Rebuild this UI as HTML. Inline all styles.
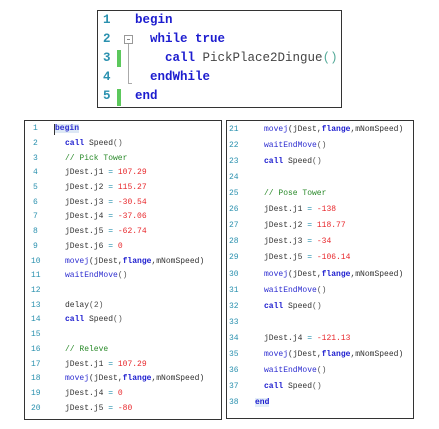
<!DOCTYPE html>
<html><head><style>
body{margin:0;width:439px;height:429px;background:#fff;position:relative;overflow:hidden;font-family:"Liberation Mono",monospace}
.box{position:absolute;border:1.5px solid #333;background:#fff;box-sizing:border-box}
.l{position:absolute;white-space:pre;color:#333}
.n{position:absolute;color:#2b91af}
.k{color:#1c1ccf;font-weight:bold}
.f{color:#2c2cd0}
.r{color:#e8282c}
.c{color:#2a8a2a}
.e{color:#2b91af}
.p{color:#555}
</style></head><body>
<div class="box" style="left:97px;top:10px;width:245px;height:98px"></div>
<div style="position:absolute;left:117px;top:50px;width:4px;height:17px;background:#5cc85c"></div>
<div style="position:absolute;left:117px;top:89px;width:4px;height:17px;background:#5cc85c"></div>
<div style="position:absolute;left:124px;top:35px;width:7px;height:7px;border:1px solid #999"></div>
<div style="position:absolute;left:127px;top:39px;width:3px;height:0;border-top:1px solid #888"></div>
<div style="position:absolute;left:128px;top:44px;width:3px;height:39px;border-left:1px solid #aaa;border-bottom:1px solid #aaa"></div>
<div style="font-size:12.5px">
<div class="n" style="left:103px;top:13px;font-weight:bold">1</div><div class="l" style="left:135px;top:13px"><span class="k">begin</span></div>
<div class="n" style="left:103px;top:32px;font-weight:bold">2</div><div class="l" style="left:150px;top:32px"><span class="k">while true</span></div>
<div class="n" style="left:103px;top:51px;font-weight:bold">3</div><div class="l" style="left:165px;top:51px"><span class="k">call</span> <span style="color:#444">PickPlace2Dingue</span><span style="color:#5a9">()</span></div>
<div class="n" style="left:103px;top:70px;font-weight:bold">4</div><div class="l" style="left:150px;top:70px"><span class="k">endWhile</span></div>
<div class="n" style="left:103px;top:89px;font-weight:bold">5</div><div class="l" style="left:135px;top:89px"><span class="k">end</span></div>
</div>

<div class="box" style="left:24px;top:120px;width:198px;height:300px"></div>
<div class="box" style="left:226px;top:120px;width:188px;height:299px"></div>
<div style="position:absolute;left:54px;top:124px;width:1px;height:11px;background:#333"></div>

<div style="font-size:8px;line-height:10px">
<div class="n" style="left:33px;top:124px">1</div><div class="l" style="left:55px;top:124px"><span class="f" style="font-weight:bold;background:#dde8f5">begin</span></div>
<div class="n" style="left:33px;top:139px">2</div><div class="l" style="left:65px;top:139px"><span class="k">call</span> Speed<span class="p">()</span></div>
<div class="n" style="left:33px;top:154px">3</div><div class="l" style="left:65px;top:154px"><span class="c">// Pick Tower</span></div>
<div class="n" style="left:33px;top:168px">4</div><div class="l" style="left:65px;top:168px">jDest.j1 <span class="e">=</span> <span class="r">107.29</span></div>
<div class="n" style="left:33px;top:183px">5</div><div class="l" style="left:65px;top:183px">jDest.j2 <span class="e">=</span> <span class="r">115.27</span></div>
<div class="n" style="left:33px;top:198px">6</div><div class="l" style="left:65px;top:198px">jDest.j3 <span class="e">=</span> <span class="r">-30.54</span></div>
<div class="n" style="left:33px;top:212px">7</div><div class="l" style="left:65px;top:212px">jDest.j4 <span class="e">=</span> <span class="r">-37.06</span></div>
<div class="n" style="left:33px;top:227px">8</div><div class="l" style="left:65px;top:227px">jDest.j5 <span class="e">=</span> <span class="r">-62.74</span></div>
<div class="n" style="left:33px;top:242px">9</div><div class="l" style="left:65px;top:242px">jDest.j6 <span class="e">=</span> <span class="r">0</span></div>
<div class="n" style="left:31px;top:257px">10</div><div class="l" style="left:65px;top:257px"><span class="f">movej</span>(jDest,<span class="k">flange</span>,mNomSpeed)</div>
<div class="n" style="left:31px;top:271px">11</div><div class="l" style="left:65px;top:271px"><span class="f">waitEndMove</span><span class="p">()</span></div>
<div class="n" style="left:31px;top:286px">12</div>
<div class="n" style="left:31px;top:301px">13</div><div class="l" style="left:65px;top:301px">delay<span class="p">(2)</span></div>
<div class="n" style="left:31px;top:315px">14</div><div class="l" style="left:65px;top:315px"><span class="k">call</span> Speed<span class="p">()</span></div>
<div class="n" style="left:31px;top:330px">15</div>
<div class="n" style="left:31px;top:345px">16</div><div class="l" style="left:65px;top:345px"><span class="c">// Releve</span></div>
<div class="n" style="left:31px;top:360px">17</div><div class="l" style="left:65px;top:360px">jDest.j1 <span class="e">=</span> <span class="r">107.29</span></div>
<div class="n" style="left:31px;top:374px">18</div><div class="l" style="left:65px;top:374px"><span class="f">movej</span>(jDest,<span class="k">flange</span>,mNomSpeed)</div>
<div class="n" style="left:31px;top:389px">19</div><div class="l" style="left:65px;top:389px">jDest.j4 <span class="e">=</span> <span class="r">0</span></div>
<div class="n" style="left:31px;top:404px">20</div><div class="l" style="left:65px;top:404px">jDest.j5 <span class="e">=</span> <span class="r">-80</span></div>

<div class="n" style="left:229px;top:125px">21</div><div class="l" style="left:264px;top:125px"><span class="f">movej</span>(jDest,<span class="k">flange</span>,mNomSpeed)</div>
<div class="n" style="left:229px;top:141px">22</div><div class="l" style="left:264px;top:141px"><span class="f">waitEndMove</span><span class="p">()</span></div>
<div class="n" style="left:229px;top:157px">23</div><div class="l" style="left:264px;top:157px"><span class="k">call</span> Speed<span class="p">()</span></div>
<div class="n" style="left:229px;top:173px">24</div>
<div class="n" style="left:229px;top:189px">25</div><div class="l" style="left:264px;top:189px"><span class="c">// Pose Tower</span></div>
<div class="n" style="left:229px;top:205px">26</div><div class="l" style="left:264px;top:205px">jDest.j1 <span class="e">=</span> <span class="r">-138</span></div>
<div class="n" style="left:229px;top:221px">27</div><div class="l" style="left:264px;top:221px">jDest.j2 <span class="e">=</span> <span class="r">118.77</span></div>
<div class="n" style="left:229px;top:237px">28</div><div class="l" style="left:264px;top:237px">jDest.j3 <span class="e">=</span> <span class="r">-34</span></div>
<div class="n" style="left:229px;top:253px">29</div><div class="l" style="left:264px;top:253px">jDest.j5 <span class="e">=</span> <span class="r">-106.14</span></div>
<div class="n" style="left:229px;top:270px">30</div><div class="l" style="left:264px;top:270px"><span class="f">movej</span>(jDest,<span class="k">flange</span>,mNomSpeed)</div>
<div class="n" style="left:229px;top:286px">31</div><div class="l" style="left:264px;top:286px"><span class="f">waitEndMove</span><span class="p">()</span></div>
<div class="n" style="left:229px;top:302px">32</div><div class="l" style="left:264px;top:302px"><span class="k">call</span> Speed<span class="p">()</span></div>
<div class="n" style="left:229px;top:318px">33</div>
<div class="n" style="left:229px;top:334px">34</div><div class="l" style="left:264px;top:334px">jDest.j4 <span class="e">=</span> <span class="r">-121.13</span></div>
<div class="n" style="left:229px;top:350px">35</div><div class="l" style="left:264px;top:350px"><span class="f">movej</span>(jDest,<span class="k">flange</span>,mNomSpeed)</div>
<div class="n" style="left:229px;top:366px">36</div><div class="l" style="left:264px;top:366px"><span class="f">waitEndMove</span><span class="p">()</span></div>
<div class="n" style="left:229px;top:382px">37</div><div class="l" style="left:264px;top:382px"><span class="k">call</span> Speed<span class="p">()</span></div>
<div class="n" style="left:229px;top:398px">38</div><div class="l" style="left:255px;top:398px"><span class="k" style="background:#e4eef8">end</span></div>
</div>
</body></html>
